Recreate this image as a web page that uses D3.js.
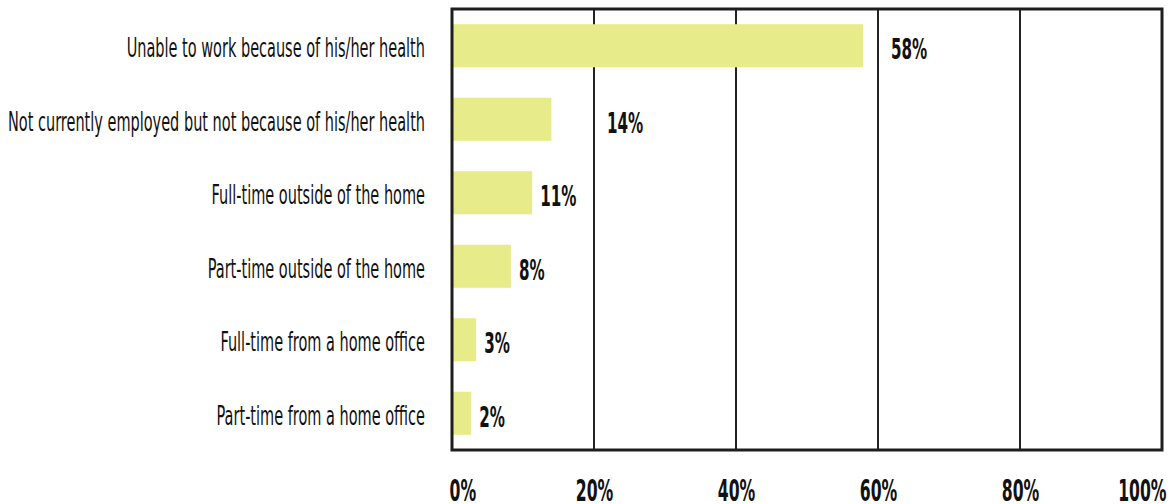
<!DOCTYPE html>
<html>
<head>
<meta charset="utf-8">
<script src="https://cdn.jsdelivr.net/npm/d3@7"></script>
<style>
  body { margin: 0; background: #fff; }
  svg { display: block; }
</style>
</head>
<body>
<script>
const categories = [
	"Unable to work because of his/her health",
	"Not currently employed but not because of his/her health",
	"Full-time outside of the home",
	"Part-time outside of the home",
	"Full-time from a home office",
	"Part-time from a home office"
];
const values = [57.9, 14.0, 11.3, 8.3, 3.4, 2.7];
const valueLabels = ["58%", "14%", "11%", "8%", "3%", "2%"];
const xTicks = [0, 20, 40, 60, 80, 100];

const width = 1173;
const height = 504;
const margin = {top: 9, right: 11, bottom: 54, left: 452};
const font = "'Liberation Sans Narrow', 'DejaVu Sans Condensed', 'Liberation Sans', sans-serif";
// the original type is far narrower than anything installed, so squeeze it
const squeeze = 0.62;
const squeezeBold = 0.58;

const svg = d3.select("body")
	.append("svg")
		.attr("width", width)
		.attr("height", height);

const x = d3.scaleLinear()
	.domain([0, 100])
	.range([margin.left, width - margin.right]);

const y = d3.scaleBand()
	.domain(categories)
	.range([margin.top, height - margin.bottom])
	.paddingInner(0.414)
	.paddingOuter(0.207);

// inner grid lines
svg.append("g")
	.selectAll("line")
	.data(xTicks.slice(1, -1))
	.enter()
	.append("line")
		.attr("x1", (d) => x(d))
		.attr("x2", (d) => x(d))
		.attr("y1", margin.top)
		.attr("y2", height - margin.bottom)
		.attr("stroke", "#222")
		.attr("stroke-width", 2);

// bars
svg.append("g")
	.selectAll("rect")
	.data(values)
	.enter()
	.append("rect")
		.attr("x", x(0) + 1)
		.attr("y", (d, i) => y(categories[i]))
		.attr("width", (d) => x(d) - x(0) - 1)
		.attr("height", y.bandwidth())
		.attr("fill", "#e8eb8a");

// frame
svg.append("rect")
	.attr("x", x(0))
	.attr("y", margin.top)
	.attr("width", x(100) - x(0))
	.attr("height", height - margin.bottom - margin.top)
	.attr("fill", "none")
	.attr("stroke", "#1e1e1e")
	.attr("stroke-width", 3);

// category labels
svg.append("g")
	.selectAll("text")
	.data(categories)
	.enter()
	.append("text")
		.attr("transform", (d) => `translate(${x(0) - 27},${y(d) + y.bandwidth() / 2 + 11.5}) scale(${squeeze},1)`)
		.attr("text-anchor", "end")
		.style("font-family", font)
		.style("font-size", "26px")
		.attr("fill", "#111")
		.text((d) => d);

// value labels, pushed past a grid line when they would sit on it
const gridX = xTicks.slice(1, -1).map((d) => x(d));
svg.append("g")
	.selectAll("text")
	.data(values)
	.enter()
	.append("text")
		.attr("text-anchor", "start")
		.style("font-family", font)
		.style("font-size", "29px")
		.style("font-weight", "bold")
		.attr("fill", "#111")
		.text((d, i) => valueLabels[i])
		.each(function(d, i) {
			let w = this.getComputedTextLength() * squeezeBold;
			let lx = x(d) + 8;
			let hit = gridX.find((g) => g > lx - 4 && g < lx + w + 4);
			if (hit !== undefined) lx = hit + 13;
			let ly = y(categories[i]) + y.bandwidth() / 2 + 13.5;
			d3.select(this).attr("transform", `translate(${lx},${ly}) scale(${squeezeBold},1)`);
		});

// x axis labels
const xAxis = d3.axisBottom(x)
	.tickValues(xTicks)
	.tickSize(0)
	.tickFormat((d) => d + "%");

svg.append("g")
	.attr("transform", `translate(0,${height - margin.bottom})`)
	.call(xAxis)
	.call((g) => g.select(".domain").remove())
	.selectAll("text")
		.attr("y", null)
		.attr("dy", null)
		.attr("transform", `translate(0,51) scale(${squeezeBold},1)`)
		.attr("text-anchor", (d, i) => i === 0 ? "start" : (i === xTicks.length - 1 ? "end" : "middle"))
		.attr("x", (d, i) => i === 0 ? -3 / squeezeBold : (i === xTicks.length - 1 ? 4 / squeezeBold : 0))
		.style("font-family", font)
		.style("font-size", "30px")
		.style("font-weight", "bold")
		.attr("fill", "#111");
</script>
</body>
</html>
